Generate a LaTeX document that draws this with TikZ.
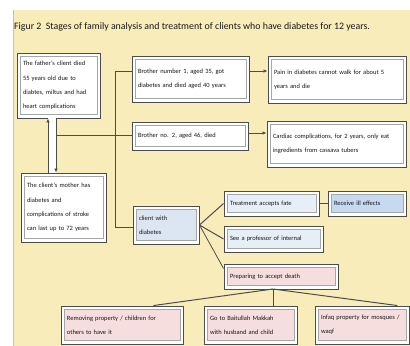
\documentclass[tikz,border=0pt]{standalone}
\usepackage{fontspec}
\setmainfont{Carlito}
\usetikzlibrary{arrows.meta,calc}
\definecolor{pagebeige}{HTML}{F8EDBA}
\definecolor{paleblue}{HTML}{E6EEF8}
\definecolor{lightblue}{HTML}{DCE6F2}
\definecolor{midblue}{HTML}{C6D9F1}
\definecolor{palepink}{HTML}{F5DEDD}
\tikzset{
  stage/.style={draw=black!70, line width=0.9pt, fill=white, inner sep=0pt,
    align=left, text=black!90, font=\fontsize{6.5}{14.5}\selectfont,
    path picture={\draw[black!35, line width=0.4pt, fill=#1]
      ($(path picture bounding box.south west)+(3bp,4bp)$) rectangle
      ($(path picture bounding box.north east)+(-3bp,-3bp)$);}},
  stage/.default=white,
  link/.style={draw=black!70, line width=0.8pt},
  arrow/.style={link, -{Latex[length=4bp,width=3.5bp]}},
}
\begin{document}
\begin{tikzpicture}[x=1bp,y=-1bp]
\useasboundingbox (0,0) rectangle (410,346);
\fill[white] (0,0) rectangle (410,346);
\fill[pagebeige] (13,10) rectangle (410,346);
\draw[black!25] (13,10) -- (13,346);

\node[anchor=west, font=\fontsize{9.9}{11}\selectfont, text=black!90, inner sep=0pt] (title) at (14,27)
  {Figur 2\ \ Stages of family analysis and treatment of clients who have diabetes for 12 years.};

\node[stage, minimum width=83bp, minimum height=65bp, text width=71bp] (father) at (58.5,85.5)
  {The father's client died\\55 years old due to\\diabtes, miltus and had\\heart complications};
\node[stage, minimum width=85bp, minimum height=69bp, text width=73bp] (mother) at (63.5,207.5)
  {The client's mother has\\diabetes and\\complications of stroke\\can last up to 72 years};

\node[stage, minimum width=117bp, minimum height=46bp, text width=105bp] (brother1) at (190.5,79)
  {Brother number 1, aged 35, got\\diabetes and died aged 40 years};
\node[stage, minimum width=138bp, minimum height=47bp, text width=126bp] (pain) at (337,79.5)
  {Pain in diabetes cannot walk for about 5\\years and die};
\node[stage, minimum width=116bp, minimum height=28bp, text width=104bp] (brother2) at (190,136)
  {Brother no. 2, aged 46, died};
\node[stage, minimum width=139bp, minimum height=46bp, text width=127bp] (cardiac) at (336.5,144)
  {Cardiac complications, for 2 years, only eat\\ingredients from cassava tubers};

\node[stage=lightblue, minimum width=66bp, minimum height=38bp, text width=54bp] (client) at (166,225)
  {client with\\diabetes};
\node[stage=paleblue, minimum width=95bp, minimum height=25bp, text width=83bp] (treatment) at (271.5,203.5)
  {Treatment accepts fate};
\node[stage=midblue, minimum width=78bp, minimum height=25bp, text width=66bp] (receive) at (367,203.5)
  {Receive ill effects};
\node[stage=paleblue, minimum width=99bp, minimum height=26bp, text width=87bp] (professor) at (273.5,239)
  {See a professor of internal};
\node[stage=palepink, minimum width=114bp, minimum height=25bp, text width=102bp] (preparing) at (281,276.5)
  {Preparing to accept death};

\node[stage=palepink, minimum width=122bp, minimum height=38bp, text width=110bp] (removing) at (122,325)
  {Removing property / children for\\others to have it};
\node[stage=palepink, minimum width=93bp, minimum height=38bp, text width=81bp] (goto) at (250.5,325)
  {Go to Baitullah Makkah\\with husband and child};
\node[stage=palepink, minimum width=94bp, minimum height=38bp, text width=82bp] (infaq) at (362,325)
  {Infaq property for mosques /\\waqf};

% father <-> mother band
\coordinate (bandL) at (48,145);
\coordinate (bandR) at (56,145);
\fill[white] (bandL |- father.south) rectangle (bandR |- mother.north);
\draw[arrow] (bandL |- mother.north) -- (bandL |- father.south);
\draw[arrow] (bandR |- father.south) -- (bandR |- mother.north);

% trunk to brothers and client
\coordinate (fork) at (56,135);
\coordinate (trunktop) at (115,71);
\coordinate (trunkbot) at (115,227);
\draw[link] (fork) -- (fork -| brother2.west);
\draw[link] (trunktop) -- (trunkbot);
\draw[link] (trunktop) -- (trunktop -| brother1.west);
\draw[link] (trunkbot) -- (trunkbot -| client.west);

\draw[arrow] (trunktop -| brother1.east) -- (trunktop -| pain.west);
\draw[arrow] ([yshift=3bp]brother2.east) -- ([yshift=3bp]brother2.east -| cardiac.west);

% client branches
\draw[link, line width=1pt] (client.east) -- (treatment.west);
\draw[link, line width=1pt] (client.east) -- (professor.west);
\draw[link] (client.east) -- ([yshift=8bp]preparing.west);
\draw[link] (treatment.east) -- (receive.west);

% preparing branches
\coordinate (split) at (273,289);
\draw[link, line width=1pt] (split) -- ([xshift=-30bp]removing.north east);
\draw[link] (split) -- (split |- goto.north);
\draw[link, line width=1pt] (split) -- ([xshift=-12bp]infaq.north east);
\end{tikzpicture}
\end{document}
